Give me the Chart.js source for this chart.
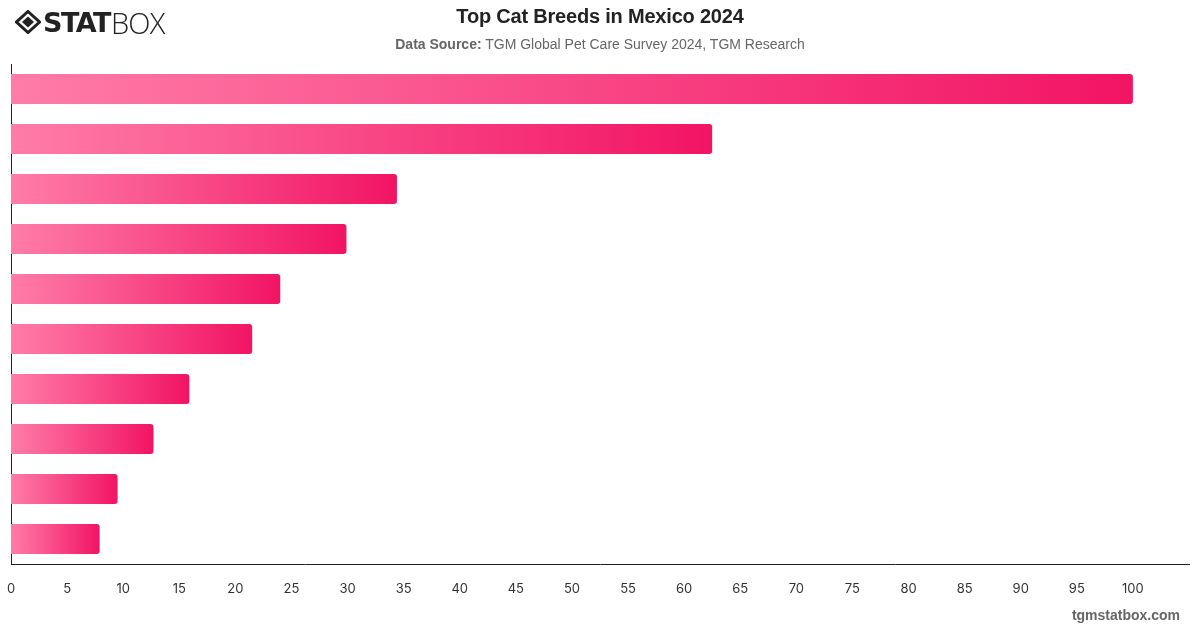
<!DOCTYPE html>
<html>
<head>
<meta charset="utf-8">
<script src="https://cdn.jsdelivr.net/npm/chart.js@4.4.1/dist/chart.umd.min.js"></script>
<style>
  html, body { margin: 0; padding: 0; background: #fff; }
  body { width: 1200px; height: 628px; position: relative; overflow: hidden; font-family: "Liberation Sans", Arial, sans-serif; }
  #wrap { position: absolute; left: 0; top: 0; width: 1200px; height: 628px; }
  #title { position: absolute; left: 0; width: 1200px; top: 5px; text-align: center; font-size: 20px; font-weight: bold; color: #222; letter-spacing: -0.2px; }
  #subtitle { position: absolute; left: 0; width: 1200px; top: 36px; text-align: center; font-size: 14px; color: #666; }
  #subtitle b { color: #666; }
  #footer { position: absolute; right: 20px; top: 607px; font-size: 14px; font-weight: bold; color: #666; }
  #logo { position: absolute; left: 15px; top: 7px; height: 30px; display: flex; align-items: center; }
  #logo .stat { font-family: "DejaVu Sans", sans-serif; font-weight: bold; font-size: 27px; color: #222; letter-spacing: -1.5px; margin-left: 2px; }
  #logo .box { font-family: "Open Sans", sans-serif; font-weight: 300; font-size: 29px; color: #222; letter-spacing: -0.8px; margin-left: 1px; }
</style>
</head>
<body>
<div id="wrap"><canvas id="c" width="1200" height="628"></canvas></div>
<div id="logo">
  <svg width="26" height="24" viewBox="0 0 26 24">
    <path d="M13 1.5 L24.5 12 L13 22.5 L1.5 12 Z" fill="none" stroke="#222" stroke-width="3"/>
    <path d="M13 6.5 L19 12 L13 17.5 L7 12 Z" fill="#222"/>
  </svg>
  <span class="stat">STAT</span><span class="box">BOX</span>
</div>
<div id="title">Top Cat Breeds in Mexico 2024</div>
<div id="subtitle"><b>Data Source:</b> TGM Global Pet Care Survey 2024, TGM Research</div>
<div id="footer">tgmstatbox.com</div>
<script>
const categories = ["Persian", "Siamese", "Maine Coon", "Bengal", "Ragdoll", "British Shorthair", "Sphynx", "Angora", "Scottish Fold", "Russian Blue"];
const values = [100, 62.5, 34.4, 29.9, 24.0, 21.5, 15.9, 12.7, 9.5, 7.9];
const tickMin = 0;
const tickMax = 105;
const tickStep = 5;

function barGradient(ctx) {
  const chart = ctx.chart;
  const xs = chart.scales.x;
  if (!xs || ctx.dataIndex === undefined) return 'rgb(242,22,102)';
  const v = ctx.dataset.data[ctx.dataIndex];
  const x0 = xs.getPixelForValue(0);
  const x1 = xs.getPixelForValue(v);
  if (!isFinite(x0) || !isFinite(x1) || x1 <= x0) return 'rgb(242,22,102)';
  const g = chart.ctx.createLinearGradient(x0, 0, x1, 0);
  g.addColorStop(0, 'rgb(255,124,168)');
  g.addColorStop(1, 'rgb(242,20,100)');
  return g;
}

new Chart(document.getElementById('c'), {
  type: 'bar',
  data: {
    labels: categories,
    datasets: [{
      data: values,
      backgroundColor: barGradient,
      borderWidth: 0,
      borderSkipped: 'start',
      borderRadius: { topLeft: 0, bottomLeft: 0, topRight: 3, bottomRight: 3 },
      barPercentage: 0.6,
      categoryPercentage: 1.0
    }]
  },
  options: {
    indexAxis: 'y',
    responsive: false,
    animation: false,
    layout: { padding: { left: 11, right: 11, top: 64, bottom: 14 } },
    plugins: { legend: { display: false }, title: { display: false }, tooltip: { enabled: false } },
    scales: {
      x: {
        min: tickMin,
        max: tickMax,
        grid: { display: false, drawTicks: false },
        border: { display: true, color: '#222', width: 1 },
        ticks: {
          stepSize: tickStep,
          color: '#333',
          font: { family: 'Inter, "Liberation Sans", sans-serif', size: 13 },
          padding: 17,
          maxRotation: 0,
          autoSkip: false,
          callback: (v) => (v > 100 ? '' : v)
        },
        afterFit: (s) => { s.height = 50; s.paddingLeft = 0; s.paddingRight = 0; }
      },
      y: {
        grid: { display: false, drawTicks: false },
        border: { display: true, color: '#222', width: 1 },
        ticks: { display: false },
        afterFit: (s) => { s.width = 0; }
      }
    }
  }
});
</script>
</body>
</html>
